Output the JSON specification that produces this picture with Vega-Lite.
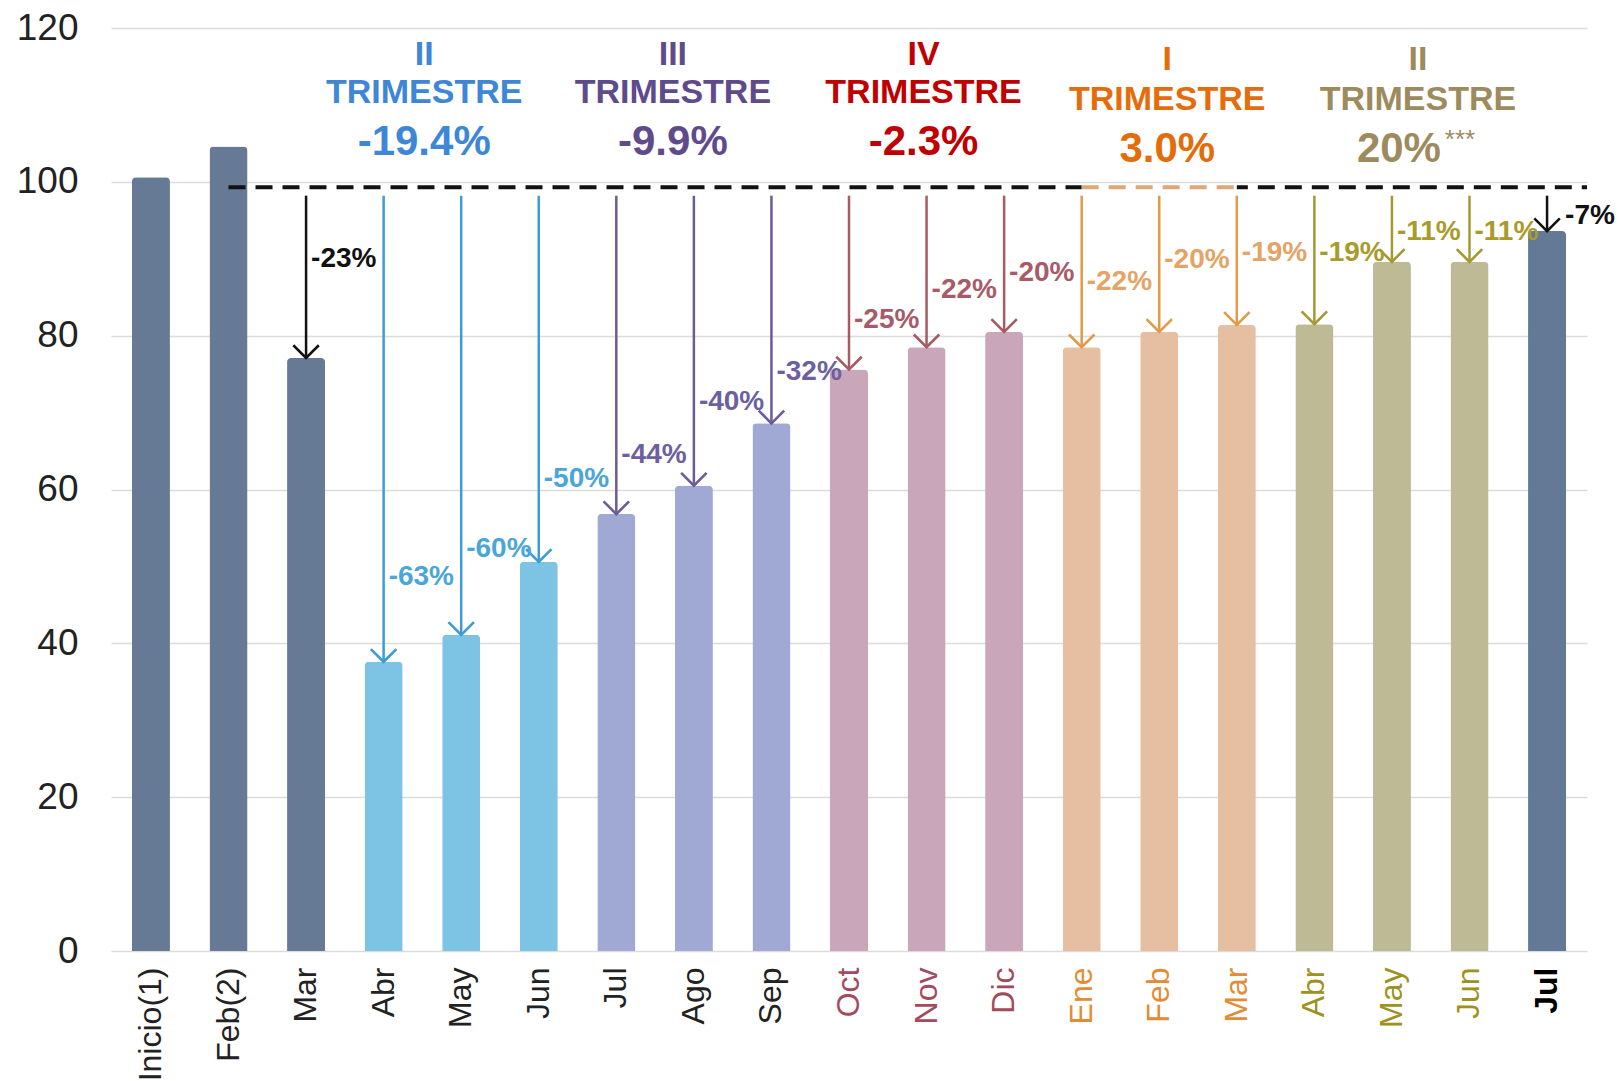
{
  "$schema": "https://vega.github.io/schema/vega-lite/v6.json",
  "width": 1476,
  "height": 923,
  "autosize": {"type": "none"},
  "padding": {"left": 111, "top": 28, "right": 31, "bottom": 130},
  "background": "white",
  "config": {"view": {"stroke": null}, "font": "Liberation Sans", "text": {"font": "Liberation Sans"}},
  "datasets": {
    "bars": [
      {"k": "Inicio(1)|a", "v": 100.6, "g": "base"},
      {"k": "Feb(2)|a", "v": 104.6, "g": "base"},
      {"k": "Mar|a", "v": 77.1, "g": "base", "lab": "-23%", "ly": 90.0},
      {"k": "Abr|q2", "v": 37.6, "g": "q2", "lab": "-63%", "ly": 48.6},
      {"k": "May|q2", "v": 41.1, "g": "q2", "lab": "-60%", "ly": 52.2},
      {"k": "Jun|q2", "v": 50.6, "g": "q2", "lab": "-50%", "ly": 61.4},
      {"k": "Jul|q3", "v": 56.8, "g": "q3", "lab": "-44%", "ly": 64.5},
      {"k": "Ago|q3", "v": 60.5, "g": "q3", "lab": "-40%", "ly": 71.4},
      {"k": "Sep|q3", "v": 68.6, "g": "q3", "lab": "-32%", "ly": 75.3},
      {"k": "Oct|q4", "v": 75.6, "g": "q4", "lab": "-25%", "ly": 82.0},
      {"k": "Nov|q4", "v": 78.5, "g": "q4", "lab": "-22%", "ly": 86.0},
      {"k": "Dic|q4", "v": 80.5, "g": "q4", "lab": "-20%", "ly": 88.2},
      {"k": "Ene|q1", "v": 78.5, "g": "q1", "lab": "-22%", "ly": 87.0},
      {"k": "Feb|q1", "v": 80.5, "g": "q1", "lab": "-20%", "ly": 89.9},
      {"k": "Mar|q1", "v": 81.4, "g": "q1", "lab": "-19%", "ly": 90.7},
      {"k": "Abr|q2b", "v": 81.5, "g": "q2b", "lab": "-19%", "ly": 90.7},
      {"k": "May|q2b", "v": 89.6, "g": "q2b", "lab": "-11%", "ly": 93.5},
      {"k": "Jun|q2b", "v": 89.6, "g": "q2b", "lab": "-11%", "ly": 93.5},
      {"k": "Jul|z", "v": 93.6, "g": "z", "lab": "-7%", "ly": 95.5}
    ]
  },
  "layer": [
    {
      "data": {"name": "bars"},
      "mark": {"type": "bar", "cornerRadiusTopLeft": 4, "cornerRadiusTopRight": 4},
      "encoding": {
        "x": {
          "field": "k", "type": "nominal", "sort": null,
          "scale": {
            "domain": ["Inicio(1)|a", "Feb(2)|a", "Mar|a", "Abr|q2", "May|q2", "Jun|q2", "Jul|q3", "Ago|q3", "Sep|q3", "Oct|q4", "Nov|q4", "Dic|q4", "Ene|q1", "Feb|q1", "Mar|q1", "Abr|q2b", "May|q2b", "Jun|q2b", "Jul|z"],
            "paddingInner": 0.51, "paddingOuter": 0.27
          },
          "axis": {
            "title": null, "domain": false, "ticks": false, "grid": false,
            "labelAngle": -90, "labelAlign": "right", "labelBaseline": "middle",
            "labelFontSize": 32, "labelPadding": 16, "labelOverlap": false,
            "labelFont": "Liberation Sans",
            "labelExpr": "split(datum.label, '|')[0]",
            "labelColor": {"expr": "indexof(datum.value, '|q4') >= 0 ? '#a24b5c' : indexof(datum.value, '|q1') >= 0 ? '#e38c35' : indexof(datum.value, '|q2b') >= 0 ? '#9c9222' : indexof(datum.value, '|z') >= 0 ? '#000000' : '#222222'"},
            "labelFontWeight": {"expr": "indexof(datum.value, '|z') >= 0 ? 'bold' : 'normal'"}
          }
        },
        "y": {
          "field": "v", "type": "quantitative",
          "scale": {"domain": [0, 120], "nice": false},
          "axis": {
            "title": null, "values": [0, 20, 40, 60, 80, 100, 120],
            "grid": true, "gridColor": "#dcdcdc", "gridWidth": 1.5,
            "domain": false, "ticks": false,
            "labelFontSize": 37, "labelColor": "#222222", "labelPadding": 33,
            "labelFont": "Liberation Sans"
          }
        },
        "color": {
          "field": "g", "type": "nominal", "legend": null,
          "scale": {
            "domain": ["base", "q2", "q3", "q4", "q1", "q2b", "z"],
            "range": ["#667a96", "#7cc3e4", "#a0a8d4", "#c9a6b9", "#e6bea1", "#bdba95", "#647995"]
          }
        }
      }
    },
    {
      "data": {"values": [{"k": "Feb(2)|a", "k2": "Ene|q1", "y": 99.3}]},
      "mark": {"type": "rule", "color": "#111111", "strokeWidth": 4, "strokeDash": [17, 10]},
      "encoding": {
        "x": {"field": "k", "type": "nominal"},
        "x2": {"field": "k2"},
        "y": {"field": "y", "type": "quantitative"}
      }
    },
    {
      "data": {"values": [{"k": "Ene|q1", "k2": "Mar|q1", "y": 99.3}]},
      "mark": {"type": "rule", "color": "#dca878", "strokeWidth": 4, "strokeDash": [17, 10]},
      "encoding": {
        "x": {"field": "k", "type": "nominal"},
        "x2": {"field": "k2"},
        "y": {"field": "y", "type": "quantitative"}
      }
    },
    {
      "data": {"values": [{"k": "Mar|q1", "y": 99.3}]},
      "mark": {"type": "rule", "color": "#111111", "strokeWidth": 4, "strokeDash": [17, 10], "strokeDashOffset": 6},
      "encoding": {
        "x": {"field": "k", "type": "nominal"},
        "x2": {"value": "width"},
        "y": {"field": "y", "type": "quantitative"}
      }
    },
    {
      "data": {"name": "bars"},
      "transform": [{"filter": "isValid(datum.lab)"}],
      "mark": {"type": "rule", "strokeWidth": 2.5},
      "encoding": {
        "x": {"field": "k", "type": "nominal"},
        "y": {"field": "v", "type": "quantitative"},
        "y2": {"datum": 98.2},
        "stroke": {
          "field": "g", "type": "nominal", "legend": null,
          "scale": {
            "domain": ["base", "q2", "q3", "q4", "q1", "q2b", "z"],
            "range": ["#111111", "#3d9bd6", "#6b5b98", "#a85a64", "#e39a45", "#a69830", "#111111"]
          }
        }
      }
    },
    {
      "data": {"name": "bars"},
      "transform": [{"filter": "isValid(datum.lab)"}],
      "mark": {"type": "point", "shape": "M-1,-1L0,0L1,-1", "filled": false, "size": 650, "strokeWidth": 2.6, "opacity": 1},
      "encoding": {
        "x": {"field": "k", "type": "nominal"},
        "y": {"field": "v", "type": "quantitative"},
        "stroke": {"field": "g", "type": "nominal", "legend": null}
      }
    },
    {
      "data": {"name": "bars"},
      "transform": [{"filter": "isValid(datum.lab) && datum.g != 'z'"}],
      "mark": {"type": "text", "align": "left", "baseline": "middle", "dx": 5, "fontSize": 28, "fontWeight": "bold"},
      "encoding": {
        "x": {"field": "k", "type": "nominal"},
        "y": {"field": "ly", "type": "quantitative"},
        "text": {"field": "lab"},
        "fill": {
          "field": "g", "type": "nominal", "legend": null,
          "scale": {
            "domain": ["base", "q2", "q3", "q4", "q1", "q2b", "z"],
            "range": ["#111111", "#4aa6d8", "#6c60a0", "#a85a68", "#e3a465", "#a89b2c", "#111111"]
          }
        }
      }
    },
    {
      "data": {"name": "bars"},
      "transform": [{"filter": "datum.g == 'z'"}],
      "mark": {"type": "text", "align": "left", "baseline": "middle", "dx": 18, "fontSize": 28, "fontWeight": "bold", "color": "#111111"},
      "encoding": {
        "x": {"field": "k", "type": "nominal"},
        "y": {"field": "ly", "type": "quantitative"},
        "text": {"field": "lab"}
      }
    },
    {
      "data": {"values": [
        {"k": "May|q2", "t": "II", "y": 116.5, "s": "n"},
        {"k": "May|q2", "t": "TRIMESTRE", "y": 111.5, "s": "n"},
        {"k": "May|q2", "t": "-19.4%", "y": 105.2, "s": "p"}
      ]},
      "mark": {"type": "text", "align": "center", "baseline": "middle", "fontWeight": "bold", "color": "#3e86d6", "dx": -37},
      "encoding": {
        "x": {"field": "k", "type": "nominal"},
        "y": {"field": "y", "type": "quantitative"},
        "text": {"field": "t"},
        "size": {"field": "s", "type": "ordinal", "legend": null, "scale": {"domain": ["n", "p"], "range": [34, 42]}}
      }
    },
    {
      "data": {"values": [
        {"k": "Ago|q3", "t": "III", "y": 116.5, "s": "n"},
        {"k": "Ago|q3", "t": "TRIMESTRE", "y": 111.5, "s": "n"},
        {"k": "Ago|q3", "t": "-9.9%", "y": 105.2, "s": "p"}
      ]},
      "mark": {"type": "text", "align": "center", "baseline": "middle", "fontWeight": "bold", "color": "#5f4b8b", "dx": -21},
      "encoding": {
        "x": {"field": "k", "type": "nominal"},
        "y": {"field": "y", "type": "quantitative"},
        "text": {"field": "t"},
        "size": {"field": "s", "type": "ordinal", "legend": null}
      }
    },
    {
      "data": {"values": [
        {"k": "Nov|q4", "t": "IV", "y": 116.5, "s": "n"},
        {"k": "Nov|q4", "t": "TRIMESTRE", "y": 111.5, "s": "n"},
        {"k": "Nov|q4", "t": "-2.3%", "y": 105.2, "s": "p"}
      ]},
      "mark": {"type": "text", "align": "center", "baseline": "middle", "fontWeight": "bold", "color": "#c00000", "dx": -3},
      "encoding": {
        "x": {"field": "k", "type": "nominal"},
        "y": {"field": "y", "type": "quantitative"},
        "text": {"field": "t"},
        "size": {"field": "s", "type": "ordinal", "legend": null}
      }
    },
    {
      "data": {"values": [
        {"k": "Feb|q1", "t": "I", "y": 115.8, "s": "n"},
        {"k": "Feb|q1", "t": "TRIMESTRE", "y": 110.7, "s": "n"},
        {"k": "Feb|q1", "t": "3.0%", "y": 104.3, "s": "p"}
      ]},
      "mark": {"type": "text", "align": "center", "baseline": "middle", "fontWeight": "bold", "color": "#e46c0a", "dx": 8},
      "encoding": {
        "x": {"field": "k", "type": "nominal"},
        "y": {"field": "y", "type": "quantitative"},
        "text": {"field": "t"},
        "size": {"field": "s", "type": "ordinal", "legend": null}
      }
    },
    {
      "data": {"values": [
        {"k": "May|q2b", "t": "II", "y": 115.8, "s": "n"},
        {"k": "May|q2b", "t": "TRIMESTRE", "y": 110.7, "s": "n"}
      ]},
      "mark": {"type": "text", "align": "center", "baseline": "middle", "fontWeight": "bold", "color": "#9d8b5e", "dx": 26},
      "encoding": {
        "x": {"field": "k", "type": "nominal"},
        "y": {"field": "y", "type": "quantitative"},
        "text": {"field": "t"},
        "size": {"field": "s", "type": "ordinal", "legend": null}
      }
    },
    {
      "data": {"values": [
        {"k": "May|q2b", "t": "20%", "y": 104.3, "s": "p"}
      ]},
      "mark": {"type": "text", "align": "center", "baseline": "middle", "fontWeight": "bold", "color": "#9d8b5e", "dx": 7},
      "encoding": {
        "x": {"field": "k", "type": "nominal"},
        "y": {"field": "y", "type": "quantitative"},
        "text": {"field": "t"},
        "size": {"field": "s", "type": "ordinal", "legend": null}
      }
    },
    {
      "data": {"values": [
        {"k": "May|q2b", "t": "***", "y": 105.4}
      ]},
      "mark": {"type": "text", "align": "center", "baseline": "middle", "fontSize": 26, "color": "#9d8b5e", "dx": 68},
      "encoding": {
        "x": {"field": "k", "type": "nominal"},
        "y": {"field": "y", "type": "quantitative"},
        "text": {"field": "t"}
      }
    }
  ]
}
